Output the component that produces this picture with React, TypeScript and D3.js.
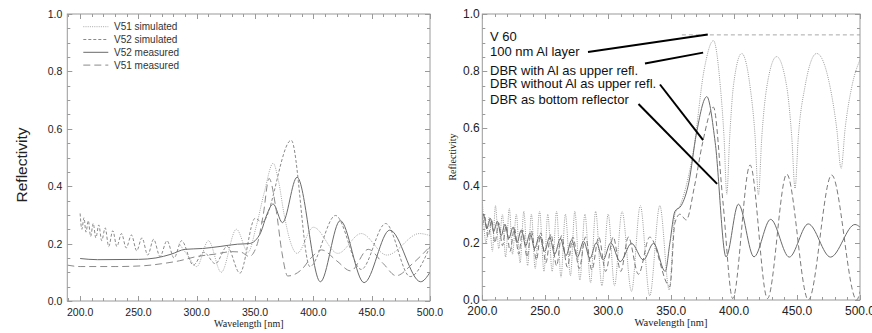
import React, { useEffect, useRef } from 'react';
import * as d3 from 'd3';

type Pt = [number, number];

// ---------- shared axis data ----------
const X_TICKS = [200, 250, 300, 350, 400, 450, 500];
const Y_TICKS = [0, 0.2, 0.4, 0.6, 0.8, 1.0];

// ---------- left chart ----------
const LEFT_LEGEND = ['V51 simulated', 'V52 simulated', 'V52 measured', 'V51 measured'];

const V51_SIM: Pt[] = [
  [285, 0.2], [292, 0.16], [300, 0.12], [310, 0.21], [321, 0.1], [334, 0.25], [344, 0.17],
  [351, 0.26], [358, 0.38], [365.5, 0.48], [370, 0.42], [375, 0.3], [380, 0.21], [386, 0.166],
  [400, 0.257], [421, 0.166], [441, 0.235], [463, 0.16], [491, 0.235], [500, 0.228],
];

const V52_SIM: Pt[] = [
  [200, 0.305], [201.5, 0.25], [203.3, 0.29], [205, 0.24], [207, 0.28], [209, 0.225], [211.2, 0.27],
  [213.5, 0.22], [216, 0.265], [218.5, 0.21], [221.5, 0.255], [224.5, 0.19], [228, 0.245],
  [231.5, 0.19], [235.5, 0.235], [239.5, 0.185], [244, 0.23], [248.5, 0.175], [253, 0.22],
  [258, 0.16], [263, 0.215], [268.5, 0.155], [274.5, 0.21], [280.5, 0.15], [287, 0.21],
  [297, 0.125], [306, 0.17], [316, 0.13], [326, 0.19], [337, 0.097], [350, 0.288], [356, 0.275],
  [381, 0.56], [397, 0.12], [419, 0.298], [441, 0.11], [462, 0.27], [483, 0.085], [500, 0.19],
];

const V52_MEAS: Pt[] = [
  [200, 0.148], [215, 0.144], [250, 0.145], [265, 0.15], [278, 0.163], [290, 0.18], [305, 0.183],
  [320, 0.19], [335, 0.198], [345, 0.2], [350, 0.21], [355, 0.24], [360, 0.3], [365.5, 0.338],
  [373.5, 0.273], [386, 0.431], [406, 0.067], [423, 0.28], [443.5, 0.064], [465.5, 0.247],
  [492, 0.067], [500, 0.1],
];

const V51_MEAS: Pt[] = [
  [189, 0.125], [200, 0.12], [230, 0.12], [255, 0.123], [270, 0.13], [285, 0.14], [300, 0.155],
  [315, 0.163], [330, 0.172], [338, 0.17], [345, 0.155], [352, 0.2], [357, 0.3], [362, 0.427],
  [368, 0.32], [373, 0.17], [378, 0.087], [390, 0.11], [398, 0.15], [407, 0.178], [420, 0.14],
  [432, 0.105], [447, 0.18], [460, 0.13], [471, 0.088], [485, 0.13], [500, 0.19],
];

// ---------- right chart ----------
const RIGHT_TEXT = [
  'V 60',
  '100 nm Al layer',
  'DBR with Al as upper refl.',
  'DBR without Al as upper refl.',
  'DBR as bottom reflector',
];

const AL_LAYER: Pt[] = [[358.5, 0.927], [500, 0.927]];

const DBR_WITH_AL: Pt[] = [
  [200, 0.35], [203, 0.2], [205.5, 0.29], [208, 0.17], [210.5, 0.33], [213, 0.18], [216, 0.3],
  [218.5, 0.15], [221.5, 0.32], [224, 0.16], [227, 0.3], [230, 0.13], [233, 0.31], [236, 0.12],
  [239, 0.3], [242, 0.11], [245.5, 0.31], [249, 0.1], [252, 0.3], [255.5, 0.1], [259, 0.31],
  [262.5, 0.08], [266, 0.3], [270, 0.085], [273.5, 0.31], [277.5, 0.07], [281.5, 0.3], [286, 0.06],
  [290, 0.31], [295, 0.05], [300, 0.3], [305, 0.05], [311, 0.31], [318.5, 0.03], [325.5, 0.33],
  [333, 0.015], [341, 0.33], [348.5, 0.035], [353, 0.3], [357, 0.33], [362, 0.4], [368, 0.53],
  [376, 0.8], [383.6, 0.907], [389, 0.75], [392, 0.57], [394.2, 0.37], [396.5, 0.57], [399.5, 0.75],
  [406, 0.862], [412.7, 0.746], [416.7, 0.57], [419.3, 0.367], [422, 0.57], [426, 0.746],
  [433.8, 0.851], [441.8, 0.746], [445.8, 0.57], [448.4, 0.39], [451, 0.57], [456.3, 0.746],
  [465.6, 0.862], [476.2, 0.746], [481.5, 0.6], [485, 0.46], [488.2, 0.6], [493.5, 0.746],
  [500, 0.84],
];

const DBR_WITHOUT_AL: Pt[] = [
  [200, 0.26], [202, 0.29], [204.5, 0.22], [207.5, 0.28], [210, 0.2], [213, 0.27], [216, 0.19],
  [219, 0.26], [222, 0.17], [225.5, 0.25], [229, 0.16], [232, 0.245], [235.5, 0.15], [239, 0.24],
  [243, 0.14], [246.5, 0.235], [250.5, 0.13], [254.5, 0.23], [259, 0.12], [263, 0.225],
  [267.5, 0.115], [272, 0.22], [277, 0.11], [282, 0.22], [287, 0.105], [292.5, 0.22], [298, 0.1],
  [304, 0.22], [310, 0.1], [316, 0.22], [324, 0.09], [333, 0.22], [349, 0.047], [353, 0.27],
  [357, 0.3], [362, 0.28], [368.5, 0.397], [375, 0.55], [383.6, 0.674], [391, 0.35],
  [398.9, 0.005], [412.7, 0.472], [426.5, 0.005], [441.8, 0.44], [459, 0.0], [477.5, 0.437],
  [497.4, 0.0], [500, 0.03],
];

const DBR_BOTTOM: Pt[] = [
  [200, 0.28], [201, 0.3], [203.5, 0.25], [206.5, 0.285], [209, 0.24], [212, 0.275], [215, 0.225],
  [218, 0.265], [221, 0.215], [224.5, 0.255], [227.5, 0.2], [231, 0.245], [234.5, 0.19], [238, 0.235],
  [241.5, 0.18], [245.5, 0.225], [249.5, 0.17], [253.5, 0.22], [257.5, 0.16], [262, 0.215],
  [266.5, 0.155], [271, 0.21], [275.5, 0.15], [280.5, 0.205], [285.5, 0.145], [290.5, 0.2],
  [296, 0.14], [302, 0.2], [309.5, 0.134], [318.5, 0.198], [328, 0.14], [336, 0.198], [345.3, 0.1],
  [349, 0.2], [353, 0.31], [358, 0.33], [364, 0.41], [370, 0.58], [378.3, 0.711], [385, 0.55],
  [393.6, 0.151], [403.4, 0.335], [415.8, 0.151], [429, 0.282], [443.8, 0.15], [458.9, 0.266],
  [476.6, 0.15], [496, 0.264], [500, 0.255],
];

// leader line targets (data coords) for the annotations
const LEADER_TARGETS: Pt[] = [[379.1, 0.928], [375.4, 0.865], [375.4, 0.559], [386.5, 0.406]];

type Series = { data: Pt[]; color: string; dash: string; width: number };

function drawPanel(
  svg: d3.Selection<SVGSVGElement, unknown, null, undefined>,
  id: string,
  x: d3.ScaleLinear<number, number>,
  y: d3.ScaleLinear<number, number>,
  series: Series[],
  tickFont: number,
  yLabelGap: number,
) {
  const [x0, x1] = x.range();
  const [y0, y1] = y.range(); // y0 bottom, y1 top
  const g = svg.append('g');
  const frame = '#9a9a9a';

  g.append('clipPath').attr('id', id).append('rect')
    .attr('x', x0).attr('y', y1).attr('width', x1 - x0).attr('height', y0 - y1);

  // ticks (inward, all 4 sides)
  const [dx0, dx1] = x.domain();
  const xMinor = d3.range(Math.ceil(dx0 / 10) * 10, dx1 + 0.001, 10);
  const yMinor = d3.range(0, 1.0001, 0.05);
  const tg = g.append('g').attr('stroke', frame).attr('stroke-width', 1);
  xMinor.forEach((v) => {
    const major = Math.abs(v % 50) < 1e-6;
    const len = major ? 5 : 3;
    const px = Math.round(x(v)) + 0.5;
    tg.append('line').attr('x1', px).attr('x2', px).attr('y1', y0).attr('y2', y0 - len);
    tg.append('line').attr('x1', px).attr('x2', px).attr('y1', y1).attr('y2', y1 + len);
  });
  yMinor.forEach((v) => {
    const major = Math.abs((v * 100) % 20) < 1e-3 || Math.abs((v * 100) % 20 - 20) < 1e-3;
    const len = major ? 5 : 3;
    const py = Math.round(y(v)) + 0.5;
    tg.append('line').attr('x1', x0).attr('x2', x0 + len).attr('y1', py).attr('y2', py);
    tg.append('line').attr('x1', x1).attr('x2', x1 - len).attr('y1', py).attr('y2', py);
  });

  // series
  const line = d3.line<Pt>().x((d) => x(d[0])).y((d) => y(d[1])).curve(d3.curveMonotoneX);
  const sg = g.append('g').attr('clip-path', `url(#${id})`);
  series.forEach((s) => {
    sg.append('path').attr('d', line(s.data) as string)
      .attr('fill', 'none').attr('stroke', s.color).attr('stroke-width', s.width)
      .attr('stroke-dasharray', s.dash);
  });

  // frame
  g.append('rect').attr('x', x0).attr('y', y1).attr('width', x1 - x0).attr('height', y0 - y1)
    .attr('fill', 'none').attr('stroke', frame).attr('stroke-width', 1);

  // tick labels
  const lg = g.append('g').attr('font-family', 'Liberation Sans, Arial, Helvetica, sans-serif')
    .attr('font-size', tickFont).attr('fill', '#222');
  X_TICKS.forEach((v) => {
    lg.append('text').attr('x', x(v)).attr('y', y0 + 14.5).attr('text-anchor', 'middle').text(v.toFixed(1));
  });
  Y_TICKS.forEach((v) => {
    lg.append('text').attr('x', x0 - yLabelGap).attr('y', y(v)).attr('text-anchor', 'end')
      .attr('dominant-baseline', 'central').text(v.toFixed(1));
  });
  return g;
}

export default function App() {
  const ref = useRef<SVGSVGElement>(null);
  useEffect(() => {
    const svg = d3.select(ref.current as SVGSVGElement);
    svg.selectAll('*').remove();
    svg.append('rect').attr('width', 872).attr('height', 333).attr('fill', '#fff');

    // ----- left panel -----
    const xL = d3.scaleLinear().domain([189, 500]).range([67.3, 430]);
    const yL = d3.scaleLinear().domain([0, 1]).range([301, 14]);
    const leftSeries: Series[] = [
      { data: V51_SIM, color: '#a8a8a8', dash: '1,1.2', width: 1 },
      { data: V52_SIM, color: '#8a8a8a', dash: '3,2', width: 1 },
      { data: V52_MEAS, color: '#6a6a6a', dash: '', width: 1 },
      { data: V51_MEAS, color: '#8a8a8a', dash: '7,4', width: 1 },
    ];
    drawPanel(svg, 'clipL', xL, yL, leftSeries, 10.5, 5);

    // legend
    const leg = svg.append('g');
    LEFT_LEGEND.forEach((name, i) => {
      const yy = 26.7 + i * 12.8;
      const s = leftSeries[i];
      leg.append('line').attr('x1', 83.3).attr('x2', 108.3).attr('y1', yy).attr('y2', yy)
        .attr('stroke', s.color).attr('stroke-width', 1).attr('stroke-dasharray', s.dash);
      leg.append('text').attr('x', 114).attr('y', yy).attr('dominant-baseline', 'central')
        .attr('font-family', 'Liberation Sans, Arial, Helvetica, sans-serif').attr('font-size', 10)
        .attr('fill', '#333').text(name);
    });

    svg.append('text').attr('transform', 'translate(21,165) rotate(-90)')
      .attr('text-anchor', 'middle').attr('dominant-baseline', 'central')
      .attr('font-family', 'Liberation Sans, Arial, Helvetica, sans-serif').attr('font-size', 15.5)
      .attr('fill', '#222').text('Reflectivity');
    svg.append('text').attr('x', 248.8).attr('y', 326.5).attr('text-anchor', 'middle')
      .attr('font-family', 'Liberation Serif, Times New Roman, serif').attr('font-size', 10)
      .attr('fill', '#222').text('Wavelength [nm]');

    // ----- right panel -----
    svg.append('rect').attr('x', 443).attr('y', 0).attr('width', 429).attr('height', 333).attr('fill', '#fff');
    const xR = d3.scaleLinear().domain([200, 500]).range([482.3, 860]);
    const yR = d3.scaleLinear().domain([0, 1]).range([300, 14]);
    const rightSeries: Series[] = [
      { data: AL_LAYER, color: '#a8a8a8', dash: '4,3', width: 1 },
      { data: DBR_WITH_AL, color: '#9a9a9a', dash: '1,1.2', width: 1 },
      { data: DBR_WITHOUT_AL, color: '#7a7a7a', dash: '5,3', width: 1 },
      { data: DBR_BOTTOM, color: '#6a6a6a', dash: '', width: 1 },
    ];
    drawPanel(svg, 'clipR', xR, yR, rightSeries, 12, 2.5);

    svg.append('text').attr('transform', 'translate(452,157) rotate(-90)')
      .attr('text-anchor', 'middle').attr('dominant-baseline', 'central')
      .attr('font-family', 'Liberation Serif, Times New Roman, serif').attr('font-size', 10)
      .attr('fill', '#222').text('Reflectivity');
    svg.append('text').attr('x', 671).attr('y', 326).attr('text-anchor', 'middle')
      .attr('font-family', 'Liberation Serif, Times New Roman, serif').attr('font-size', 10.5)
      .attr('fill', '#222').text('Wavelength [nm]');

    const baselines = [41, 56.3, 75, 88.3, 103.5];
    RIGHT_TEXT.forEach((t, i) => {
      svg.append('text').attr('x', 490).attr('y', baselines[i])
        .attr('font-family', 'Liberation Sans, Arial, Helvetica, sans-serif').attr('font-size', 13)
        .attr('fill', '#111').text(t);
    });
    const leaderStarts: Pt[] = [[588, 52], [645, 63.5], [660, 84.5], [638.5, 104]];
    leaderStarts.forEach((p, i) => {
      const tgt = LEADER_TARGETS[i];
      svg.append('line').attr('x1', p[0]).attr('y1', p[1])
        .attr('x2', xR(tgt[0])).attr('y2', yR(tgt[1]))
        .attr('stroke', '#000').attr('stroke-width', 2);
    });
  }, []);
  return (
    <svg ref={ref} width={872} height={333}
      style={{ position: 'absolute', left: 0, top: 0, display: 'block' }} />
  );
}
